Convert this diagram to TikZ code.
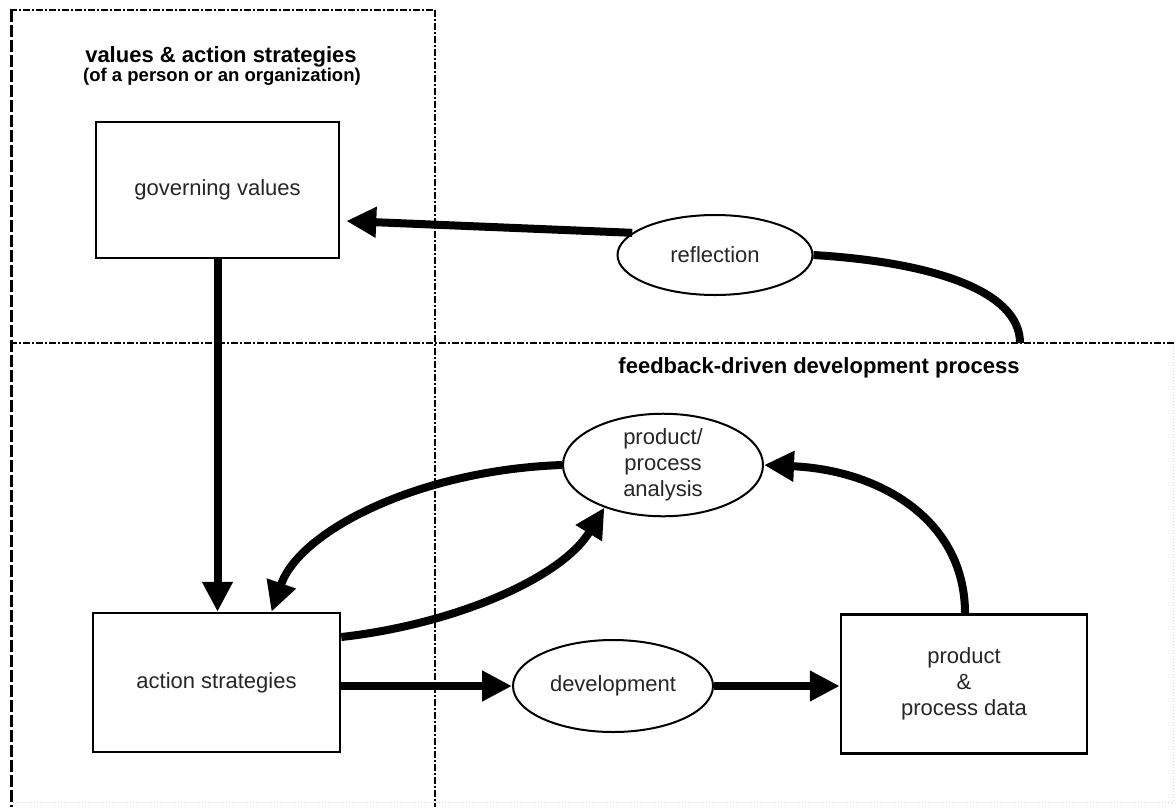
\documentclass[tikz,border=0pt]{standalone}
\usepackage{fontspec}
\setmainfont{Liberation Sans}
\usetikzlibrary{arrows.meta,shapes.geometric,calc}

\newcommand\bodyfont{\fontsize{22}{26}\selectfont}
\newcommand\headfont{\fontsize{22}{24}\selectfont\bfseries}
\newcommand\subheadfont{\fontsize{18.5}{20}\selectfont\bfseries}

\tikzset{
  box/.style={draw, line width=2.5pt, inner sep=0pt, align=center, font=\bodyfont, text=black!85},
  oval/.style={draw, ellipse, line width=2pt, inner sep=0pt, align=center, font=\bodyfont, text=black!85},
  flow/.style={line width=8pt, -{Triangle[length=30pt,width=29pt]}},
  thick line/.style={line width=8pt},
  region/.style={line width=1.6pt, dash pattern=on 7pt off 2pt on 2pt off 2pt},
  outer edge/.style={line width=3pt, dash pattern=on 12pt off 3pt},
  faint edge/.style={gray!35, line width=1pt, dotted},
}

\begin{document}
\begin{tikzpicture}[x=1pt, y=-1pt]
  \useasboundingbox (0,0) rectangle (1176,807);

  % regions
  \draw[region] (10,10) -- (435,10);
  \draw[region] (435,10) -- (435,807);
  \draw[region] (10,343) -- (1176,343);
  \draw[outer edge] (11,10) -- (11,807);
  \draw[faint edge] (13,802) -- (1173,802) -- (1173,345);

  % headings
  \node[font=\headfont] (head1) at (221,57) {values \& action strategies};
  \node[font=\subheadfont] (head2) at (222,77) {(of a person or an organization)};
  \node[font=\headfont] (head3) at (819,368) {feedback-driven development process};

  % boxes
  \node[box, minimum width=243pt, minimum height=136pt] (gov) at (217.5,190) {governing values};
  \node[box, minimum width=247pt, minimum height=139pt] (act) at (216.5,682.5) {action strategies};
  \node[box, minimum width=246pt, minimum height=139pt] (prod) at (964,684) {product\\\&\\process data};

  % ovals
  \node[oval, minimum width=195pt, minimum height=80pt] (refl) at (715,255) {reflection};
  \node[oval, minimum width=200pt, minimum height=92pt] (dev) at (613,686) {development};
  \node[oval, minimum width=200pt, minimum height=95pt] (ana) at (663,465) {product/\\process\\analysis};

  % connectors
  \draw[flow] (gov.south) -- (gov.south |- act.north);
  \draw[flow] (refl.165) -- ([xshift=6pt,yshift=-31pt]gov.east);
  \coordinate (rend) at (1020,343);
  \draw[thick line] (refl.east) .. controls (930,262) and (1020,290) .. (rend);
  \draw[flow] (act.east |- dev.west) -- (dev.west);
  \draw[flow] (dev.east) -- (dev.east -| prod.west);
  \draw[flow] (ana.west) .. controls (420,470) and (300,530) .. ([xshift=55pt]act.north);
  \draw[flow] ([yshift=45.5pt]act.east) .. controls (450,625) and (560,580) .. (ana.216);
  \draw[flow] ([xshift=1pt]prod.north) .. controls (965,520) and (880,470) .. (ana.east);
\end{tikzpicture}
\end{document}
